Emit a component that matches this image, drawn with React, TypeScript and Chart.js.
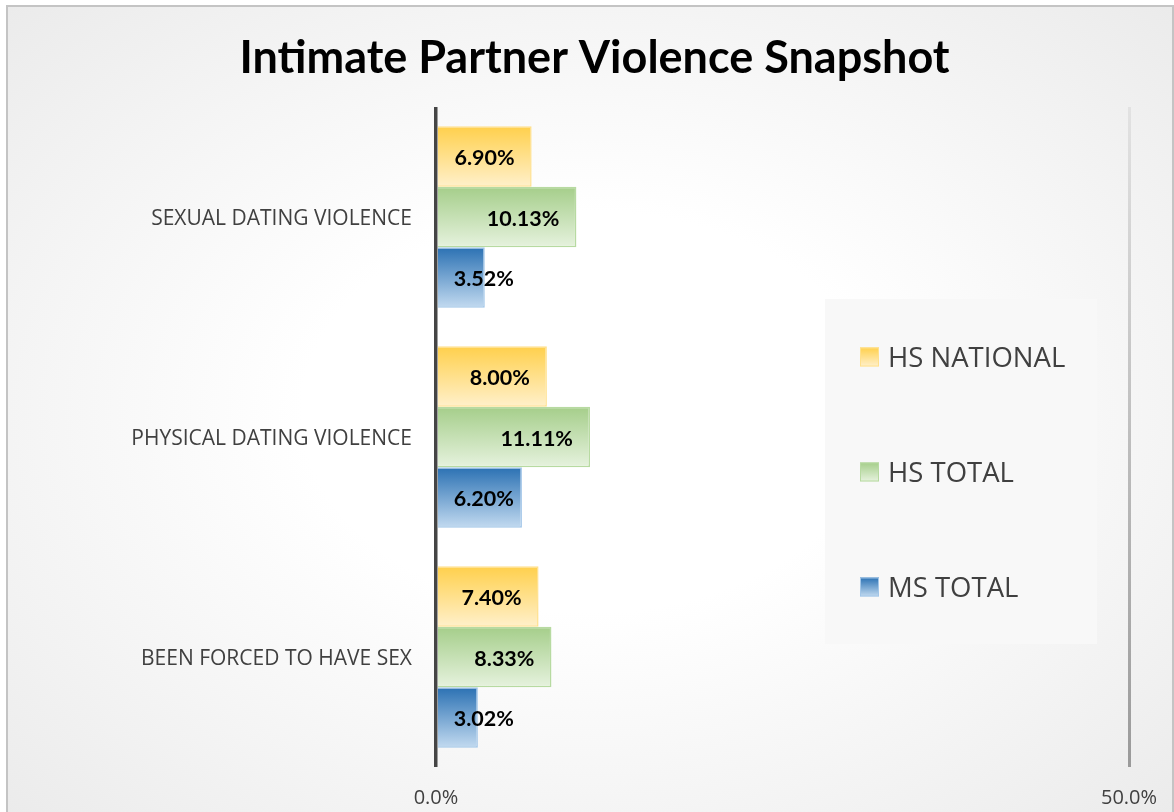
import React, { useEffect, useRef } from "react";
import { Chart, registerables } from "chart.js";

Chart.register(...registerables);

// ---- Data ----
const categories = ["SEXUAL DATING VIOLENCE", "PHYSICAL DATING VIOLENCE", "BEEN FORCED TO HAVE SEX"];
const seriesNames = ["HS NATIONAL", "HS TOTAL", "MS TOTAL"];
const hsNational = [6.9, 8.0, 7.4];
const hsTotal = [10.13, 11.11, 8.33];
const msTotal = [3.52, 6.2, 3.02];
const axisMin = 0;
const axisMax = 50;
const tickStep = 50;
const titleText = "Intimate Partner Violence Snapshot";

// ---- Styles ----
const palettes = [
  { top: "#FFD04C", bottom: "#FFF0CB", border: "#FFE08C" },
  { top: "#A5CE8A", bottom: "#E6F2DE", border: "#B7DAA1" },
  { top: "#2B71B3", bottom: "#C2DAF0", border: "#A2C6E8" },
];
const CAT_PCT = 0.825;
const W = 1164;
const H = 810;

function barGradient(ctx: any, i: number) {
  const chart = ctx.chart;
  const p = palettes[i];
  const ys = chart.scales && chart.scales.y;
  if (!ys || !chart.chartArea || ctx.dataIndex == null) return p.top;
  const n = chart.data.labels.length;
  const nd = chart.data.datasets.length;
  const cat = (ys.bottom - ys.top) / n;
  const barH = (cat * CAT_PCT) / nd;
  const top = ys.getPixelForValue(ctx.dataIndex) - (cat * CAT_PCT) / 2 + ctx.datasetIndex * barH;
  const g = chart.ctx.createLinearGradient(0, top, 0, top + barH);
  g.addColorStop(0, p.top);
  g.addColorStop(1, p.bottom);
  return g;
}

const titlePlugin = {
  id: "customTitle",
  afterDraw(chart: any) {
    const c = chart.ctx;
    c.save();
    c.font = "bold 45px Lato";
    c.fillStyle = "#000000";
    c.textAlign = "center";
    c.textBaseline = "alphabetic";
    c.fillText(titleText, 586.5, 66);
    c.restore();
  },
};

const labelPlugin = {
  id: "barLabels",
  afterDatasetsDraw(chart: any) {
    const c = chart.ctx;
    c.save();
    c.font = "bold 21.5px Lato";
    c.fillStyle = "#000000";
    c.textAlign = "left";
    c.textBaseline = "alphabetic";
    chart.data.datasets.forEach((ds: any, di: number) => {
      const meta = chart.getDatasetMeta(di);
      meta.data.forEach((el: any, i: number) => {
        const txt = Number(ds.data[i]).toFixed(2) + "%";
        const w = c.measureText(txt).width;
        const x = Math.max(el.base + 16, el.x - 17 - w);
        c.fillText(txt, x, el.y + 8.5);
      });
    });
    c.restore();
  },
};

const legendPlugin = {
  id: "legendBox",
  afterDraw(chart: any) {
    const c = chart.ctx;
    const bx = 817, by = 292, bw = 272, bh = 345;
    c.save();
    c.fillStyle = "#F8F8F8";
    c.fillRect(bx, by, bw, bh);
    chart.data.datasets.forEach((ds: any, i: number) => {
      const cy = by + 58 + i * 115;
      const p = palettes[i];
      const sx = 852, s = 19;
      const g = c.createLinearGradient(0, cy - s / 2, 0, cy + s / 2);
      g.addColorStop(0, p.top);
      g.addColorStop(1, p.bottom);
      c.fillStyle = g;
      c.fillRect(sx, cy - s / 2, s, s);
      c.strokeStyle = p.border;
      c.lineWidth = 1;
      c.strokeRect(sx + 0.5, cy - s / 2 + 0.5, s - 1, s - 1);
      c.fillStyle = "#404040";
      c.font = "27.5px 'Open Sans'";
      c.textAlign = "left";
      c.textBaseline = "alphabetic";
      c.fillText(ds.label, 880, cy + 9.5);
    });
    c.restore();
  },
};

export default function App() {
  const ref = useRef<HTMLCanvasElement | null>(null);

  useEffect(() => {
    if (!ref.current) return;
    const seriesData = [hsNational, hsTotal, msTotal];
    const chart = new Chart(ref.current, {
      type: "bar",
      data: {
        labels: categories,
        datasets: seriesNames.map((name, i) => ({
          label: name,
          data: seriesData[i],
          backgroundColor: (ctx: any) => barGradient(ctx, i),
          borderColor: palettes[i].border,
          borderWidth: 1.5,
          categoryPercentage: CAT_PCT,
          barPercentage: 1,
        })),
      },
      options: {
        indexAxis: "y",
        responsive: false,
        animation: false,
        devicePixelRatio: 1,
        layout: { padding: { top: 100, right: 43, bottom: 0, left: 0 } },
        plugins: {
          legend: { display: false },
          title: { display: false },
          tooltip: { enabled: false },
        },
        scales: {
          x: {
            min: axisMin,
            max: axisMax,
            afterFit: (s: any) => {
              s.height = 50;
              s.paddingLeft = 0;
              s.paddingRight = 0;
            },
            ticks: {
              stepSize: tickStep,
              padding: 19,
              color: "#404040",
              font: { family: "'Open Sans'", size: 20 },
              callback: (v: any) => Number(v).toFixed(1) + "%",
            },
            border: { display: false },
            grid: {
              drawTicks: false,
              lineWidth: (ctx: any) => (ctx.tick && ctx.tick.value === 0 ? 3.5 : 3),
              color: (ctx: any) => {
                if (ctx.tick && ctx.tick.value === 0) return "#454545";
                const ca = ctx.chart.chartArea;
                if (!ca) return "#a6a6a6";
                const g = ctx.chart.ctx.createLinearGradient(0, ca.top, 0, ca.bottom);
                g.addColorStop(0, "#E2E2E2");
                g.addColorStop(1, "#9A9A9A");
                return g;
              },
            },
          },
          y: {
            afterFit: (s: any) => {
              s.width = 428;
            },
            ticks: {
              padding: 24,
              labelOffset: 2,
              color: "#404040",
              font: { family: "'Open Sans'", size: 21 },
            },
            grid: { display: false, drawTicks: false },
            border: { display: false },
          },
        },
      },
      plugins: [labelPlugin, legendPlugin, titlePlugin],
    } as any);
    return () => chart.destroy();
  }, []);

  return (
    <div
      style={{
        position: "fixed",
        left: 6,
        top: 5,
        width: W,
        height: H,
        border: "2px solid #C4C4C4",
        background: "radial-gradient(ellipse farthest-corner at 50% 50%, #ffffff 35%, #ebebeb 100%)",
      }}
    >
      <canvas ref={ref} width={W} height={H} style={{ display: "block", width: W, height: H }} />
    </div>
  );
}
